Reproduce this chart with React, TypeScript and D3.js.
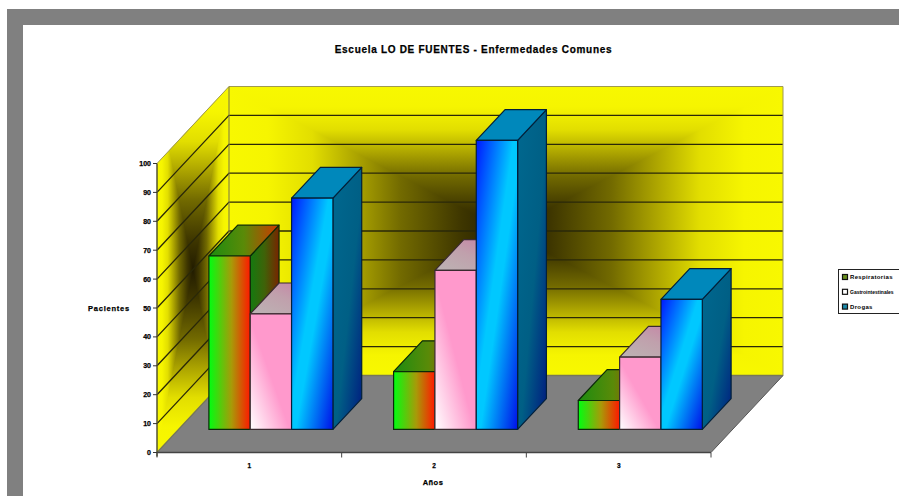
import React from "react";
import * as d3 from "d3";

// Chart data
const chartTitle = "Escuela LO DE FUENTES - Enfermedades Comunes";
const yTitle = "Pacientes";
const xTitle = "Años";
const years = ["1", "2", "3"];
const seriesNames = ["Respiratorias", "Gastrointestinales", "Drogas"];
const respiratorias = [60, 20, 10];
const gastrointestinales = [40, 55, 25];
const drogas = [80, 100, 45];
const yTicks = [0, 10, 20, 30, 40, 50, 60, 70, 80, 90, 100];
const legendSwatches = ["#6a9020", "#ffffff", "#1a88a8"];

const seriesValues = [respiratorias, gastrointestinales, drogas];

const W = 899;
const H = 496;

// Oblique projection of the plot box
const floorLeft = 157;
const floorRight = 711;
const depthX = 72;
const depthY = -77;
const barDepthStart = 0.3;
const barDepthEnd = 0.7;

const y = d3.scaleLinear().domain([0, 100]).range([452.5, 163.5]);
const xGroup = d3
  .scaleBand<string>()
  .domain(years)
  .range([floorLeft, floorRight])
  .paddingInner(0.3285)
  .paddingOuter(0.164);
const xBar = d3
  .scaleBand<string>()
  .domain(seriesNames)
  .range([0, xGroup.bandwidth()]);

const line = d3.line();
const poly = (pts: [number, number][]) => line(pts)! + "Z";

// Wall shading: distance from the wall edge against colour
const wallStops: [number, string][] = [
  [0, "#f8f800"],
  [0.07, "#f6f500"],
  [0.15, "#e2de00"],
  [0.23, "#aca400"],
  [0.31, "#726a00"],
  [0.42, "#3e3600"],
  [0.5, "#221c00"],
  [0.58, "#3e3600"],
  [0.69, "#726a00"],
  [0.77, "#aca400"],
  [0.85, "#e2de00"],
  [0.93, "#f6f500"],
  [1, "#f8f800"],
];

function WallStops() {
  return (
    <>
      {wallStops.map(([o, c]) => (
        <stop key={o} offset={o} stopColor={c} />
      ))}
    </>
  );
}

function Wall({ matrix }: { matrix: string }) {
  return (
    <g transform={`matrix(${matrix})`}>
      <rect x={0} y={0} width={1} height={1} fill="url(#wallH)" />
      <path d="M0,0L1,0L0.5,0.5Z" fill="url(#wallV)" />
      <path d="M0,1L1,1L0.5,0.5Z" fill="url(#wallV)" />
    </g>
  );
}

const faceFills = [
  { front: "url(#gFront)", top: "url(#gTop)", side: "url(#gSide)", edge: "#0a2a08" },
  { front: "url(#pFront)", top: "url(#pTop)", side: "#c080a0", edge: "#3a2a30" },
  { front: "url(#bFront)", top: "#0088bb", side: "url(#bSide)", edge: "#03203a" },
];

export default function App() {
  const baseY = (v: number) => y(v) + depthY * barDepthStart;
  const bdx = depthX * (barDepthEnd - barDepthStart);
  const bdy = depthY * (barDepthEnd - barDepthStart);
  const shiftX = depthX * barDepthStart;
  const plotTop = y(100);
  const plotH = y(0) - y(100);
  const axisFont = "'Liberation Sans', Arial, sans-serif";
  const labelInk = { stroke: "#000", strokeWidth: 0.25 };

  return (
    <svg
      width={W}
      height={H}
      viewBox={`0 0 ${W} ${H}`}
      style={{ position: "absolute", left: 0, top: 0, background: "#fff" }}
    >
      <defs>
        <linearGradient id="wallH" gradientUnits="userSpaceOnUse" x1={0} y1={0} x2={1} y2={0}>
          <WallStops />
        </linearGradient>
        <linearGradient id="wallV" gradientUnits="userSpaceOnUse" x1={0} y1={0} x2={0} y2={1}>
          <WallStops />
        </linearGradient>
        <clipPath id="sideWall">
          <path
            d={poly([
              [floorLeft, y(100)],
              [floorLeft + depthX, y(100) + depthY],
              [floorLeft + depthX, y(0) + depthY],
              [floorLeft, y(0)],
            ])}
          />
        </clipPath>

        <linearGradient id="gFront" x1={0} y1={0} x2={1} y2={0}>
          <stop offset={0} stopColor="#00ff10" />
          <stop offset={0.55} stopColor="#a89a08" />
          <stop offset={1} stopColor="#ff1800" />
        </linearGradient>
        <linearGradient id="gTop" x1={0} y1={0} x2={1} y2={0}>
          <stop offset={0} stopColor="#1c8c10" />
          <stop offset={0.5} stopColor="#5a8a08" />
          <stop offset={1} stopColor="#d03800" />
        </linearGradient>
        <linearGradient id="gSide" x1={0} y1={0} x2={1} y2={0}>
          <stop offset={0} stopColor="#147a10" />
          <stop offset={0.5} stopColor="#3f6208" />
          <stop offset={1} stopColor="#782400" />
        </linearGradient>

        <linearGradient id="pFront" x1={0} y1={1} x2={1} y2={0}>
          <stop offset={0} stopColor="#ffffff" />
          <stop offset={0.48} stopColor="#ff99cc" />
          <stop offset={1} stopColor="#ff99cc" />
        </linearGradient>
        <linearGradient id="pTop" x1={0} y1={1} x2={1} y2={0}>
          <stop offset={0} stopColor="#bcb4b4" />
          <stop offset={0.5} stopColor="#c0a0ac" />
          <stop offset={1} stopColor="#c87aa4" />
        </linearGradient>

        <linearGradient id="bFront" x1={0} y1={0} x2={1} y2={1}>
          <stop offset={0} stopColor="#0018ff" />
          <stop offset={0.45} stopColor="#00c8ff" />
          <stop offset={0.55} stopColor="#00c8ff" />
          <stop offset={1} stopColor="#0010e8" />
        </linearGradient>
        <linearGradient id="bSide" x1={0} y1={0} x2={1} y2={1}>
          <stop offset={0} stopColor="#00688f" />
          <stop offset={0.55} stopColor="#005f85" />
          <stop offset={1} stopColor="#001a80" />
        </linearGradient>
      </defs>

      {/* Page frame */}
      <rect x={7} y={9} width={W - 7} height={H - 9} fill="#808080" />
      <rect x={23} y={25} width={W - 23} height={H - 25} fill="#ffffff" />

      <text
        x={473.5}
        y={53}
        textAnchor="middle"
        fontFamily={axisFont}
        fontWeight={700}
        fontSize={10}
        letterSpacing={0.7}
        fill="#000"
        {...labelInk}
      >
        {chartTitle}
      </text>

      {/* Side wall: shaded over its bounding box and cut to the parallelogram */}
      <g clipPath="url(#sideWall)">
        <Wall matrix={`${depthX},0,0,${plotH - depthY},${floorLeft},${plotTop + depthY}`} />
      </g>
      {/* Back wall and floor */}
      <Wall
        matrix={`${floorRight - floorLeft},0,0,${plotH},${floorLeft + depthX},${plotTop + depthY}`}
      />
      <path
        d={poly([
          [floorLeft, y(0)],
          [floorLeft + depthX, y(0) + depthY],
          [floorRight + depthX, y(0) + depthY],
          [floorRight, y(0)],
        ])}
        fill="#808080"
      />

      {/* Gridlines across both walls */}
      {yTicks.map((t) => (
        <path
          key={t}
          d={line([
            [floorLeft, y(t)],
            [floorLeft + depthX, y(t) + depthY],
            [floorRight + depthX, y(t) + depthY],
          ])!}
          fill="none"
          stroke={t === 100 ? "#a09a50" : t === 0 ? "#77775a" : "#2a2808"}
          strokeWidth={t === 100 ? 1 : 1.3}
        />
      ))}
      <path
        d={line([
          [floorLeft + depthX, y(100) + depthY],
          [floorLeft + depthX, y(0) + depthY],
        ])!}
        stroke="#77724a"
        strokeWidth={1}
        fill="none"
      />
      <path
        d={line([
          [floorRight + depthX, y(100) + depthY],
          [floorRight + depthX, y(0) + depthY],
        ])!}
        stroke="#a09a50"
        strokeWidth={1}
        fill="none"
      />
      <path
        d={line([
          [floorRight, y(0)],
          [floorRight + depthX, y(0) + depthY],
        ])!}
        stroke="#555"
        strokeWidth={1}
        fill="none"
      />

      {/* Bars, drawn left to right so that later faces cover earlier ones */}
      {years.map((year, gi) =>
        seriesNames.map((name, si) => {
          const x0 = xGroup(year)! + xBar(name)! + shiftX;
          const x1 = x0 + xBar.bandwidth();
          const yb = baseY(0);
          const yt = baseY(seriesValues[si][gi]);
          const f = faceFills[si];
          return (
            <g key={name + year} stroke={f.edge} strokeWidth={1.2} strokeLinejoin="round">
              <path
                d={poly([
                  [x1, yb],
                  [x1 + bdx, yb + bdy],
                  [x1 + bdx, yt + bdy],
                  [x1, yt],
                ])}
                fill={f.side}
              />
              <path
                d={poly([
                  [x0, yt],
                  [x0 + bdx, yt + bdy],
                  [x1 + bdx, yt + bdy],
                  [x1, yt],
                ])}
                fill={f.top}
              />
              <rect x={x0} y={yt} width={x1 - x0} height={yb - yt} fill={f.front} />
            </g>
          );
        })
      )}

      {/* Value axis */}
      <path
        d={line([
          [floorLeft, y(100)],
          [floorLeft, y(0) + 4],
        ])!}
        stroke="#555530"
        strokeWidth={1.5}
        fill="none"
      />
      {yTicks.map((t) => (
        <g key={t}>
          <path
            d={line([
              [floorLeft - 4, y(t)],
              [floorLeft, y(t)],
            ])!}
            stroke="#333"
            strokeWidth={1}
          />
          <text
            x={floorLeft - 6}
            y={y(t) + 2.5}
            textAnchor="end"
            fontFamily={axisFont}
            fontWeight={700}
            fontSize={7}
            fill="#000"
            {...labelInk}
          >
            {t}
          </text>
        </g>
      ))}
      <text
        x={109}
        y={310.5}
        textAnchor="middle"
        fontFamily={axisFont}
        fontWeight={700}
        fontSize={7.5}
        letterSpacing={0.75}
        fill="#000"
        {...labelInk}
      >
        {yTitle}
      </text>

      {/* Category axis */}
      <path
        d={line([
          [floorLeft, y(0)],
          [floorRight, y(0)],
        ])!}
        stroke="#444"
        strokeWidth={1.3}
        fill="none"
      />
      {d3.range(years.length + 1).map((i) => {
        const tx = floorLeft + ((floorRight - floorLeft) * i) / years.length;
        return (
          <path
            key={i}
            d={line([
              [tx, y(0)],
              [tx, y(0) + 5],
            ])!}
            stroke="#444"
            strokeWidth={1}
          />
        );
      })}
      {years.map((year) => (
        <text
          key={year}
          x={xGroup(year)! + xGroup.bandwidth() / 2}
          y={468}
          textAnchor="middle"
          fontFamily={axisFont}
          fontWeight={700}
          fontSize={6.5}
          fill="#000"
          {...labelInk}
        >
          {year}
        </text>
      ))}
      <text
        x={433}
        y={484.5}
        textAnchor="middle"
        fontFamily={axisFont}
        fontWeight={700}
        fontSize={7.5}
        letterSpacing={0.5}
        fill="#000"
        {...labelInk}
      >
        {xTitle}
      </text>

      {/* Legend, its box running off the right side of the page */}
      <rect x={838.5} y={269.5} width={80} height={44} fill="#fff" stroke="#222" strokeWidth={1} />
      {seriesNames.map((name, i) => {
        const ly = 277 + i * 14.8;
        const long = name.length > 14;
        return (
          <g key={name}>
            <rect
              x={842.5}
              y={ly - 2.5}
              width={5}
              height={5}
              fill={legendSwatches[i]}
              stroke="#111"
              strokeWidth={1.2}
            />
            <text
              x={850}
              y={ly + 2.2}
              fontFamily={axisFont}
              fontWeight={700}
              fontSize={long ? 5 : 6}
              letterSpacing={long ? undefined : 0.35}
              fill="#000"
            >
              {name}
            </text>
          </g>
        );
      })}
    </svg>
  );
}
